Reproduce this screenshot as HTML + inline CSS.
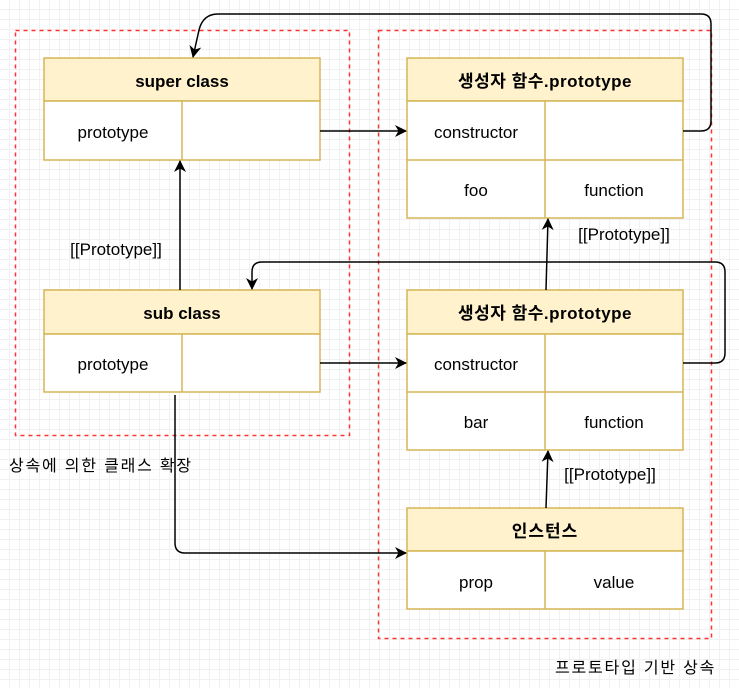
<!DOCTYPE html>
<html><head><meta charset="utf-8"><style>
body{margin:0;width:739px;height:688px;overflow:hidden;background:#fff;
background-image:linear-gradient(#f1f1f1 1px,transparent 1px),linear-gradient(90deg,#f1f1f1 1px,transparent 1px);background-size:10px 10px;background-position:-1px -1px}
</style></head><body>
<svg width="739" height="688" xmlns="http://www.w3.org/2000/svg" style="position:absolute;left:0;top:0;font-family:'Liberation Sans','Noto Sans CJK KR',sans-serif">
<defs><marker id="a" markerWidth="12" markerHeight="12" refX="11" refY="6" orient="auto" markerUnits="userSpaceOnUse"><path d="M0,0 L12,6 L0,12 L3.5,6 z" fill="#000"/></marker></defs>
<rect x="15.5" y="30.5" width="334" height="405" fill="none" stroke="#ff3333" stroke-width="1.5" stroke-dasharray="4,4"/>
<rect x="378.5" y="30.5" width="333" height="608" fill="none" stroke="#ff3333" stroke-width="1.5" stroke-dasharray="4,4"/>
<g stroke="#d6b656" stroke-width="1.5">
<rect x="44" y="58" width="276" height="43" fill="#fff2cc"/><rect x="44" y="101" width="276" height="59" fill="#fff"/><line x1="182" y1="101" x2="182" y2="160"/>
<rect x="44" y="290" width="276" height="44" fill="#fff2cc"/><rect x="44" y="334" width="276" height="58" fill="#fff"/><line x1="182" y1="334" x2="182" y2="392"/>
<rect x="407" y="58" width="276" height="43" fill="#fff2cc"/><rect x="407" y="101" width="276" height="117" fill="#fff"/><line x1="545" y1="101" x2="545" y2="218"/><line x1="407" y1="160" x2="683" y2="160"/>
<rect x="407" y="290" width="276" height="44" fill="#fff2cc"/><rect x="407" y="334" width="276" height="116" fill="#fff"/><line x1="545" y1="334" x2="545" y2="450"/><line x1="407" y1="392" x2="683" y2="392"/>
<rect x="407" y="508" width="276" height="43" fill="#fff2cc"/><rect x="407" y="551" width="276" height="58" fill="#fff"/><line x1="545" y1="551" x2="545" y2="609"/>
</g>
<g fill="none" stroke="#000" stroke-width="1.5" marker-end="url(#a)">
<path d="M320,131 L406,131"/>
<path d="M683,131 L701,131 Q711,131 711,121 L711,24 Q711,14 701,14 L218,14 Q203,14 199,30 L193,57"/>
<path d="M180,290 L180,161"/>
<path d="M546,290 L548,219"/>
<path d="M683,363 L715,363 Q725,363 725,353 L725,272 Q725,262 715,262 L262,262 Q252,262 252,272 L252,289"/>
<path d="M320,363 L406,363"/>
<path d="M175,395 L175,543 Q175,553 185,553 L406,553"/>
<path d="M546,508 L548,451"/>
</g>
<g font-size="17" text-anchor="middle" fill="#000">
<text x="182" y="87" font-weight="bold">super class</text>
<text x="113" y="138">prototype</text>
<text x="182" y="319" font-weight="bold">sub class</text>
<text x="113" y="370">prototype</text>
<text x="545" y="87" font-weight="bold" letter-spacing="0.5">생성자 함수.prototype</text>
<text x="476" y="138">constructor</text>
<text x="476" y="196">foo</text><text x="614" y="196">function</text>
<text x="545" y="319" font-weight="bold" letter-spacing="0.5">생성자 함수.prototype</text>
<text x="476" y="370">constructor</text>
<text x="476" y="428">bar</text><text x="614" y="428">function</text>
<text x="545" y="537" font-weight="bold" letter-spacing="1">인스턴스</text>
<text x="476" y="588">prop</text><text x="614" y="588">value</text>
<text x="116" y="255">[[Prototype]]</text>
<text x="624" y="240">[[Prototype]]</text>
<text x="610" y="480">[[Prototype]]</text>
</g>
<g font-size="16" fill="#000" letter-spacing="1.8">
<text x="9" y="471">상속에 의한 클래스 확장</text>
<text x="555" y="673">프로토타입 기반 상속</text>
</g>
</svg>
</body></html>
